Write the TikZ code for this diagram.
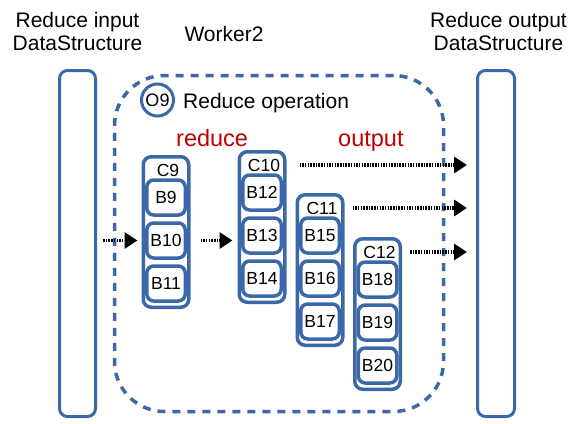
\documentclass[tikz,border=0pt]{standalone}
\usepackage{fontspec}
\setmainfont{Liberation Sans}
\usetikzlibrary{arrows.meta}

\definecolor{wblue}{RGB}{58,104,168}
\definecolor{wred}{RGB}{192,0,0}

\tikzset{
  dsbox/.style={draw=wblue, line width=3pt, rounded corners=8pt,
    minimum width=36pt, minimum height=346pt, inner sep=0pt},
  workerbox/.style={draw=wblue, line width=3.5pt, rounded corners=50pt,
    dash pattern=on 8pt off 7pt, minimum width=329pt, minimum height=336pt},
  chunk/.style={draw=wblue, line width=3.5pt, rounded corners=8pt,
    minimum width=45.5pt, minimum height=150.5pt, inner sep=0pt},
  blk/.style={draw=wblue, line width=3.5pt, rounded corners=7pt,
    minimum width=38.5pt, minimum height=35pt, inner sep=0pt,
    font=\fontsize{17.5}{20}\selectfont},
  clabel/.style={inner sep=0pt, font=\fontsize{17.5}{20}\selectfont},
  big/.style={inner sep=0pt, font=\fontsize{21}{23}\selectfont},
  redlbl/.style={inner sep=0pt, text=wred, font=\fontsize{23.5}{26}\selectfont},
  flow/.style={line width=3.2pt, dash pattern=on 1.5pt off 1.2pt,
    -{Triangle[length=13pt,width=16pt]}, shorten <=8pt, shorten >=8pt}
}

\begin{document}
\begin{tikzpicture}[x=1pt,y=-1pt]
  \useasboundingbox (0,0) rectangle (569,423);
  % Data structures on both sides
  \node[dsbox] (inDS) at (77.5,243.5) {};
  \node[dsbox, minimum width=37pt] (outDS) at (496,243.5) {};
  \node[big, align=center, anchor=base] (inlbl) at (77.5,50) {Reduce input\\DataStructure};
  \node[big, align=center, anchor=base] (outlbl) at (498.5,50) {Reduce output\\DataStructure};
  % Worker
  \node[workerbox] (worker) at (279,243.5) {};
  \node[big, anchor=base] (wname) at (224,41) {Worker2};
  \node[circle, draw=wblue, line width=3pt, minimum size=32pt, inner sep=0pt,
    font=\fontsize{18}{20}\selectfont] (op) at (157.5,100) {O9};
  \node[big, anchor=base west] (opname) at (183,108) {Reduce operation};
  \node[redlbl, anchor=base west] (redname) at (176,146) {reduce};
  \node[redlbl, anchor=base west] (outname) at (338,146) {output};
  % Chunks and blocks
  \foreach \c/\b/\x/\t in {9/9/166/155, 10/12/262/150, 11/15/320/193, 12/18/377.5/237}{
    \node[chunk] (c\c) at (\x,\t+77) {};
    \node[clabel] (clbl\c) at (\x+2,\t+15) {C\c};
    \foreach \i in {0,1,2}{
      \pgfmathtruncatemacro\n{\b+\i}
      \node[blk] (b\n) at (\x,\t+42.5+43*\i) {B\n};
    }
  }
  % Data flow
  \draw[flow, shorten <=6pt, shorten >=4pt] (inDS.east |- b10) -- (c9.west |- b10);
  \draw[flow, shorten <=10pt, shorten >=5pt] (c9.east |- b10) -- (c10.west |- b10);
  \draw[flow, shorten <=13pt, shorten >=9pt] (c10.east |- clbl10) -- (outDS.west |- clbl10);
  \draw[flow, shorten >=9pt] (c11.east |- clbl11) -- (outDS.west |- clbl11);
  \draw[flow, shorten >=9pt] (c12.east |- clbl12) -- (outDS.west |- clbl12);
\end{tikzpicture}
\end{document}
